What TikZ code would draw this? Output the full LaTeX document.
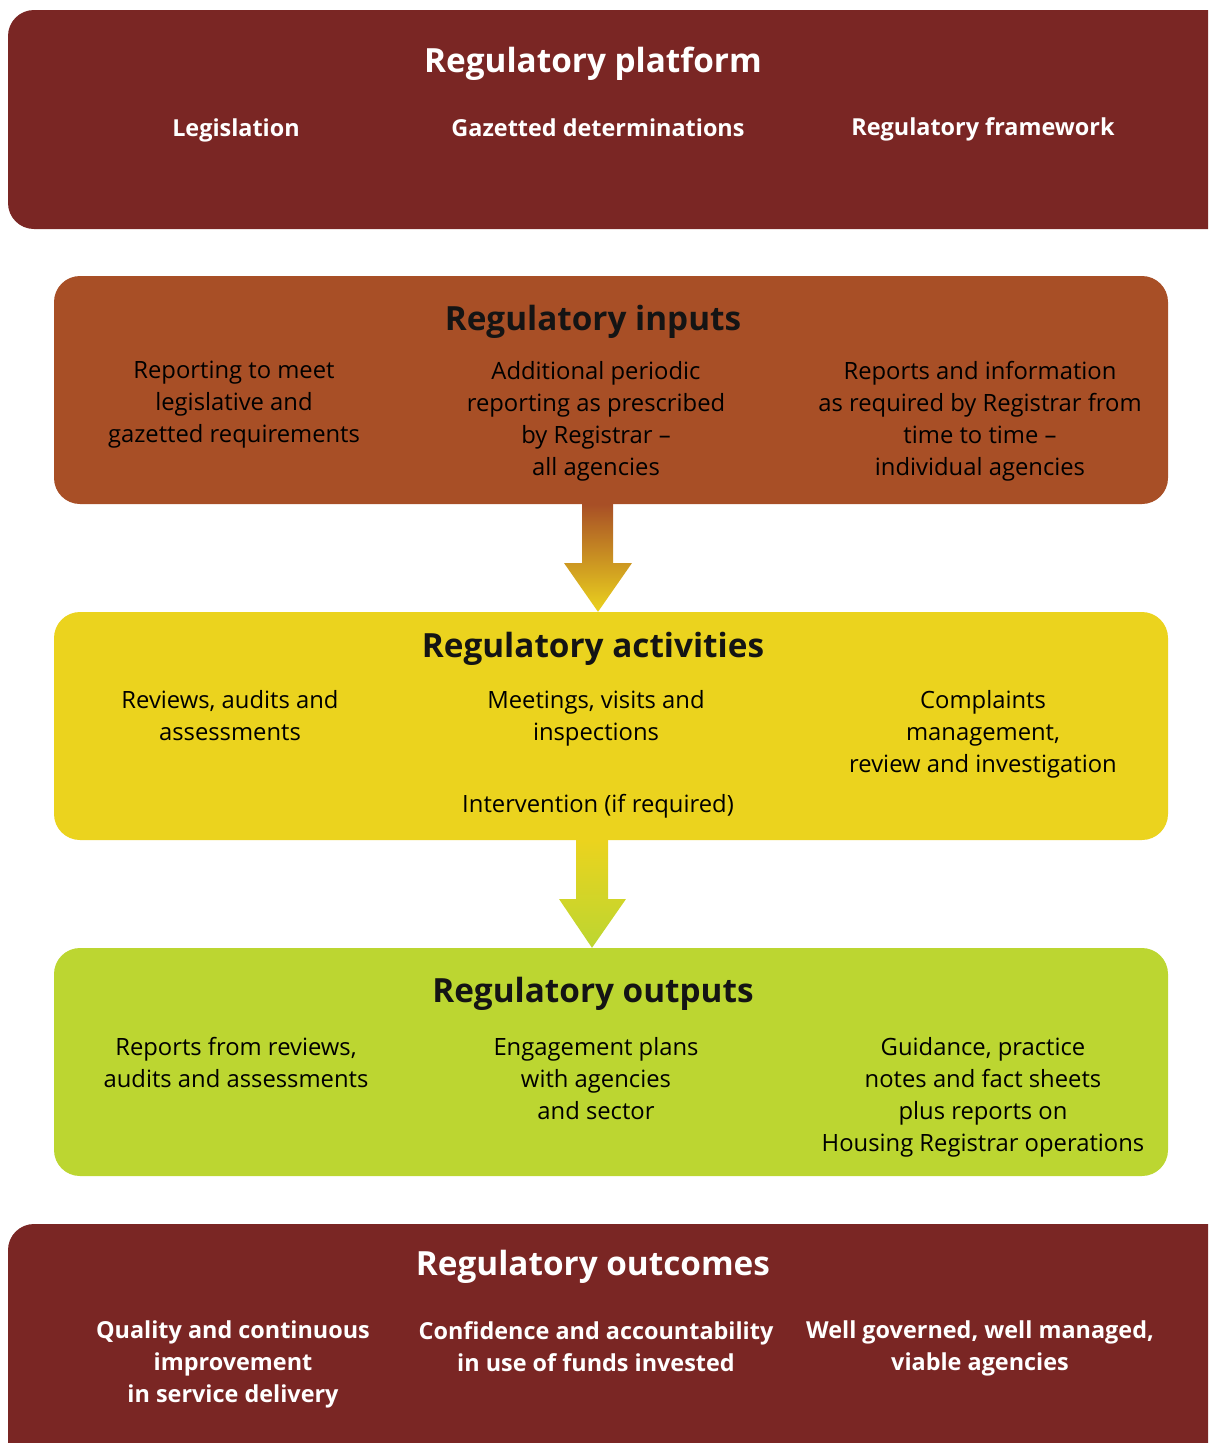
\documentclass[tikz,border=0pt]{standalone}
\usepackage{fontspec}
\setmainfont{Open Sans}
\usepackage{tikz}
\usetikzlibrary{calc}
\definecolor{platformred}{HTML}{7A2624}
\definecolor{inputbrown}{HTML}{A84F26}
\definecolor{activityyellow}{HTML}{EBD31E}
\definecolor{outputgreen}{HTML}{BCD631}
\definecolor{textblack}{HTML}{141414}

\begin{document}
\begin{tikzpicture}[x=1pt,y=-1pt,
  regbox/.style={rectangle, rounded corners=26pt, inner sep=0pt},
  head/.style={inner sep=0pt, font=\fontsize{33.3}{38}\selectfont\bfseries},
  item/.style={align=center, anchor=north, inner sep=0pt, font=\fontsize{23.8}{32}\selectfont},
  whiteitem/.style={item, text=white, font=\fontsize{23.4}{32}\selectfont\bfseries}]
\path[use as bounding box, clip] (0,0) rectangle (1208,1443);

% boxes
\node [regbox, fill=platformred, minimum width=1232pt, minimum height=219pt] (platform) at (624,119.5) {};
\node [regbox, fill=inputbrown, minimum width=1114pt, minimum height=228pt] (inputs) at (611,390) {};
\node [regbox, fill=activityyellow, minimum width=1114pt, minimum height=228pt] (activities) at (611,726) {};
\node [regbox, fill=outputgreen, minimum width=1114pt, minimum height=228pt] (outputs) at (611,1062) {};
\node [regbox, fill=platformred, minimum width=1232pt, minimum height=256pt] (outcomes) at (624,1352) {};

% arrows
\shade [top color=inputbrown, bottom color=activityyellow]
  (582,0 |- inputs.south) -- (613,0 |- inputs.south) -- (613,563) -- (632,563)
  -- (598,0 |- activities.north) -- (564,563) -- (582,563) -- cycle;
\shade [top color=activityyellow, bottom color=outputgreen]
  (576,0 |- activities.south) -- (608,0 |- activities.south) -- (608,899) -- (626,899)
  -- (592,0 |- outputs.north) -- (559,899) -- (576,899) -- cycle;

% platform
\node [head, text=white] (platformhead) at (593,64) {Regulatory platform};
\node [whiteitem] (legis) at (236,118.5) {Legislation};
\node [whiteitem] (gazette) at (598,118.5) {Gazetted determinations};
\node [whiteitem] (framework) at (983,117) {Regulatory framework};

% inputs
\node [head, text=textblack] (inputshead) at (593,322) {Regulatory inputs};
\node [item] (inone) at (234,361) {Reporting to meet\\legislative and\\gazetted requirements};
\node [item] (intwo) at (596,361) {Additional periodic\\reporting as prescribed\\by Registrar --\\all agencies};
\node [item] (inthree) at (980,361) {Reports and information\\as required by Registrar from\\time to time --\\individual agencies};

% activities
\node [head, text=textblack] (activitieshead) at (593,649) {Regulatory activities};
\node [item] (actone) at (230,690) {Reviews, audits and\\assessments};
\node [item] (acttwo) at (596,690) {Meetings, visits and\\inspections};
\node [item] (actthree) at (983,690) {Complaints\\management,\\review and investigation};
\node [item] (actfour) at (598,794) {Intervention (if required)};

% outputs
\node [head, text=textblack] (outputshead) at (593,994) {Regulatory outputs};
\node [item] (outone) at (236,1037) {Reports from reviews,\\audits and assessments};
\node [item] (outtwo) at (596,1037) {Engagement plans\\with agencies\\and sector};
\node [item] (outthree) at (983,1037) {Guidance, practice\\notes and fact sheets\\plus reports on\\Housing Registrar operations};

% outcomes
\node [head, text=white] (outcomeshead) at (593,1267) {Regulatory outcomes};
\node [whiteitem] (ocone) at (233,1321) {Quality and continuous\\improvement\\in service delivery};
\node [whiteitem] (octwo) at (596,1321) {Confidence and accountability\\in use of funds invested};
\node [whiteitem] (octhree) at (980,1321) {Well governed, well managed,\\viable agencies};
\end{tikzpicture}
\end{document}
